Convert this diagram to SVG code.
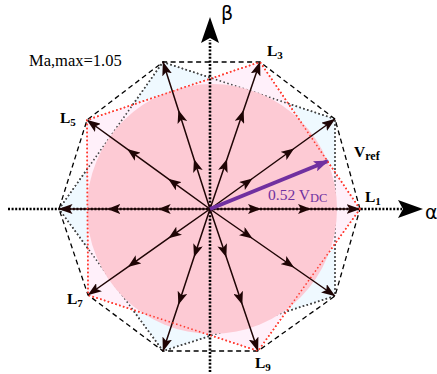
<svg xmlns="http://www.w3.org/2000/svg" width="437" height="374" viewBox="0 0 437 374">
<style>
.dec{fill:none;stroke:#000;stroke-width:1.3;stroke-dasharray:5 3.5}
.pd{fill:#eff9ff;stroke:#444;stroke-width:1.6;stroke-dasharray:1.5 2.5}
.pr{fill:#fff0fa;stroke:#ff3b2f;stroke-width:1.6;stroke-dasharray:1.5 2.5}
.pr2{fill:none;stroke:#ff3b2f;stroke-width:1.6;stroke-dasharray:1.5 2.5}
.pd2{fill:none;stroke:#444;stroke-width:1.6;stroke-dasharray:1.5 2.5}
.ax{fill:none;stroke:#000;stroke-width:2.6;stroke-dasharray:2 1.6}
.vec{fill:none;stroke:#1f0505;stroke-width:1.5;marker-mid:url(#mh);marker-end:url(#eh)}
.lb{font-family:"Liberation Serif",serif;font-weight:bold;font-size:15.5px;fill:#000}
.sb{font-size:11px}
</style>
<defs>
<marker id="mh" markerUnits="userSpaceOnUse" viewBox="0 0 13 10" markerWidth="13" markerHeight="10" refX="12" refY="5" orient="auto">
<path d="M0,0 L13,5 L0,10 L3,5 z" fill="#1f0505"/>
</marker>
<marker id="eh" markerUnits="userSpaceOnUse" viewBox="0 0 14 10" markerWidth="14" markerHeight="10" refX="13.5" refY="5" orient="auto">
<path d="M0,0 L14,5 L0,10 L3,5 z" fill="#1f0505"/>
</marker>
<marker id="ph" markerUnits="userSpaceOnUse" viewBox="0 0 15 11" markerWidth="15" markerHeight="11" refX="14" refY="5.5" orient="auto">
<path d="M0,0 L15,5.5 L0,11 L3,5.5 z" fill="#7030a0"/>
</marker>
</defs>

<g id="regions">
<polygon class="pd" points="335,119 163,62 59,209 163,351 335,296"/>
<polygon class="pr" points="360,209 260,62 87,120 88,295 258,351"/>
<polygon class="pd2" points="335,119 163,62 59,209 163,351 335,296"/>
<circle cx="212" cy="209" r="125" fill="#fdcad4"/>
<polygon class="dec" points="360,209 335,119 260,62 163,62 87,120 59,209 88,295 163,351 258,351 335,296"/>
</g>

<g id="axes">
<line class="ax" x1="8" y1="209" x2="402" y2="209"/>
<polygon points="423,209 398,200 403,209 398,218" fill="#000"/>
<line class="ax" x1="210" y1="372" x2="210" y2="40"/>
<polygon points="210,17 201,43 210,38 219,43" fill="#000"/>
<text x="425" y="219" font-family="DejaVu Sans,sans-serif" font-size="19">α</text>
<text x="221" y="20" font-family="DejaVu Sans,sans-serif" font-size="19">β</text>
</g>

<g id="connectors">
<polyline class="vec" points="210,209 260,209 310,209 360,209"/>
<polyline class="vec" points="210,209 251.7,179 293.3,149 335,119"/>
<polyline class="vec" points="210,209 226.7,160 243.3,111 260,62"/>
<polyline class="vec" points="210,209 194.3,160 178.7,111 163,62"/>
<polyline class="vec" points="210,209 169,179.3 128,149.7 87,120"/>
<polyline class="vec" points="210,209 158.7,209 108.3,209 59,209"/>
<polyline class="vec" points="210,209 169.3,237.7 128.7,266.3 88,295"/>
<polyline class="vec" points="210,209 194.3,256.3 178.7,303.7 163,351"/>
<polyline class="vec" points="210,209 226,256.3 242,303.7 258,351"/>
<polyline class="vec" points="210,209 251.7,238 293.3,267 335,296"/>
<line x1="210" y1="209" x2="328" y2="161" stroke="#7030a0" stroke-width="4" marker-end="url(#ph)"/>
</g>

<g id="pr-edges">
<polygon class="pr2" points="360,209 260,62 87,120 88,295 258,351"/>
</g>

<g id="labels">
<text x="29" y="66" font-family="Liberation Serif,serif" font-size="16.5">Ma,max=1.05</text>
<text class="lb" x="365" y="202">L<tspan class="sb" dy="3">1</tspan></text>
<text class="lb" x="267" y="56">L<tspan class="sb" dy="3">3</tspan></text>
<text class="lb" x="60" y="123">L<tspan class="sb" dy="3">5</tspan></text>
<text class="lb" x="67" y="304">L<tspan class="sb" dy="3">7</tspan></text>
<text class="lb" x="255" y="368">L<tspan class="sb" dy="3">9</tspan></text>
<text class="lb" x="354" y="157" font-size="16">V<tspan font-size="12" dy="3">ref</tspan></text>
<text x="268" y="200" font-family="Liberation Serif,serif" font-size="15.5" fill="#7030a0">0.52 V<tspan font-size="12.5" dy="2">DC</tspan></text>
</g>
</svg>
